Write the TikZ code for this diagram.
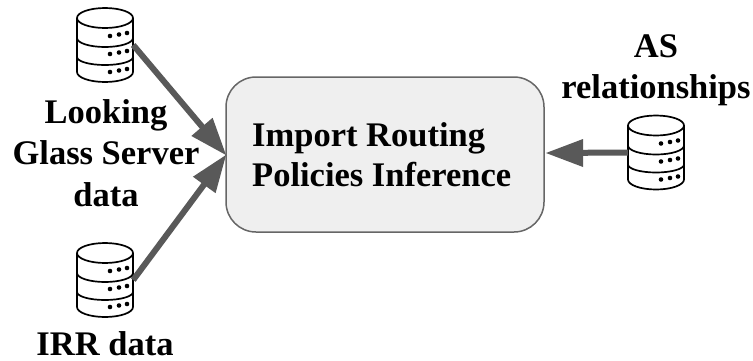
\documentclass[tikz,border=0pt]{standalone}
\usepackage{fontspec}
\setmainfont{Liberation Serif}
\definecolor{boxfill}{HTML}{EFEFEF}
\definecolor{boxline}{HTML}{666666}
\definecolor{arrowc}{HTML}{595959}
\tikzset{
  x=1pt,y=-1pt,
  lbl/.style={font=\fontsize{34.5}{41.5}\selectfont\bfseries,align=center,text=black,inner sep=0pt},
  dbanchor/.style={minimum width=56pt,minimum height=74pt,inner sep=0pt},
  flow/.style={draw=arrowc,line width=6pt,shorten >=30pt},
  tipc/.style={fill=arrowc,draw=none},
  pics/dbicon/.style={code={
    \draw[line width=1.7pt,black,fill=white,line join=round]
      (-28,-27) -- (-28,27) arc[start angle=180,end angle=360,x radius=28,y radius=-10] -- (28,-27);
    \draw[line width=1.7pt,black,fill=white] (0,-27) ellipse[x radius=28,y radius=10];
    \draw[line width=1.7pt,black] (-28,-7) arc[start angle=180,end angle=360,x radius=28,y radius=-9];
    \draw[line width=1.7pt,black] (-28,12) arc[start angle=180,end angle=360,x radius=28,y radius=-8];
    \foreach \yy in {-9,9,27}{
      \fill (5,\yy) circle[radius=2.3];
      \fill (14,\yy-1.5) circle[radius=2.3];
      \fill (22,\yy-3) circle[radius=2.3];
    }
  }}
}
\newcommand{\tiphead}[3]{%
  \fill[tipc,rotate around={#3:(#1,#2)}] (#1,#2) -- ++(-37,-14) -- ++(0,28) -- cycle;}
\begin{document}
\begin{tikzpicture}
\useasboundingbox (0,0) rectangle (753,360);
\node[draw=boxline,fill=boxfill,line width=1.5pt,rounded corners=30pt,minimum width=318pt,minimum height=155pt,inner sep=0pt] (main) at (385,154.5) {};
\node[font=\fontsize{34.5}{40}\selectfont\bfseries,align=left,inner sep=0pt,anchor=west] (maintext) at (252,155) {Import Routing\\Policies Inference};
\node[dbanchor] (db1) at (105,45) {};
\pic at (db1.center) {dbicon};
\node[dbanchor] (db2) at (105,280) {};
\pic at (db2.center) {dbicon};
\node[dbanchor] (db3) at (656,152.5) {};
\pic at (db3.center) {dbicon};
\coordinate (t1) at (226,155);
\coordinate (t3) at (546,153);
\draw[flow] (db1.east) -- (t1);
\draw[flow] (db2.east) -- (t1);
\draw[flow] (db3.west) -- (t3);
\tiphead{226}{155}{-49.5}
\tiphead{226}{155}{54}
\tiphead{546}{153}{180}
\node[lbl] (l1) at (106,153) {Looking\\Glass Server\\data};
\node[lbl,anchor=base] (l2) at (105,355.5) {IRR data};
\node[lbl] (l3) at (656,70) {AS\\relationships};
\end{tikzpicture}
\end{document}
